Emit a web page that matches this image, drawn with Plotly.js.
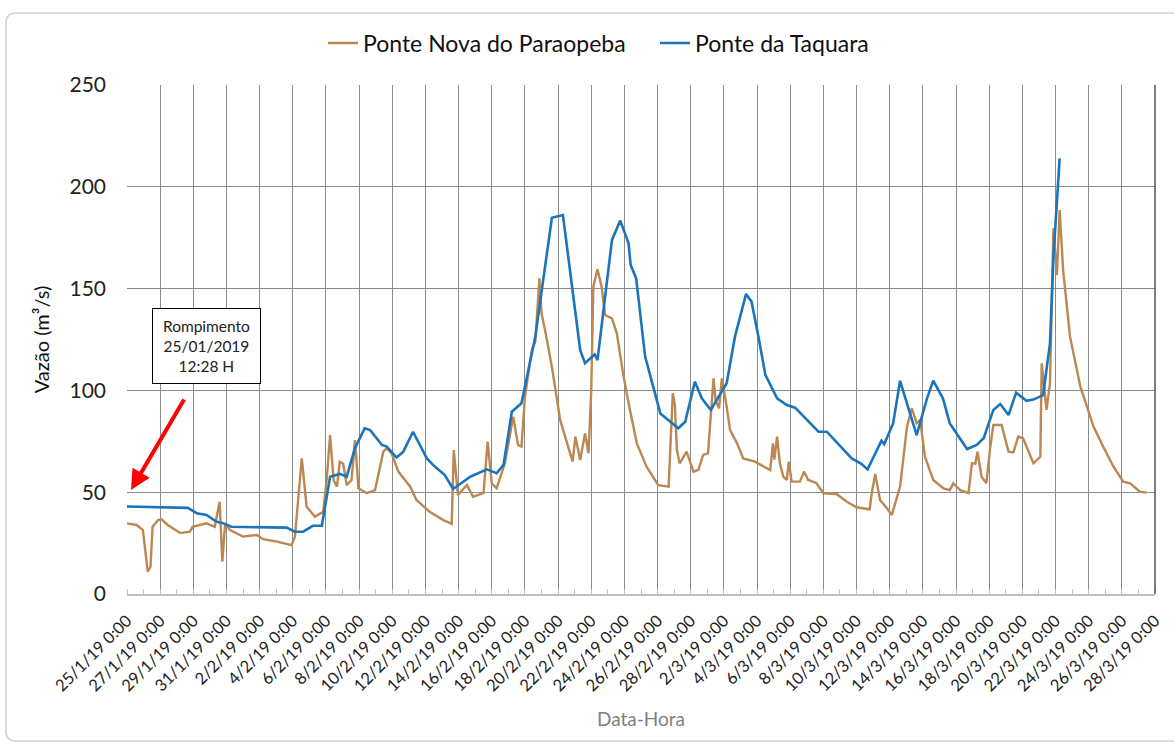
<!DOCTYPE html>
<html>
<head>
<meta charset="utf-8">
<script src="https://cdn.plot.ly/plotly-3.0.1.min.js"></script>
<style>
  html, body { margin: 0; padding: 0; background: #ffffff; }
  #chart { width: 1174px; height: 743px; }
</style>
</head>
<body>
<div id="chart"></div>
<script>
// ---------- DATA ----------
const seriesNames = ['Ponte Nova do Paraopeba', 'Ponte da Taquara'];

const paraopebaDates = [
'2019-01-25 00:00','2019-01-25 14:00','2019-01-25 23:00','2019-01-26 06:00','2019-01-26 10:00',
'2019-01-26 13:00','2019-01-26 21:00','2019-01-27 02:00','2019-01-27 11:00','2019-01-28 05:00',
'2019-01-28 19:00','2019-01-28 23:00','2019-01-29 19:00','2019-01-30 07:00','2019-01-30 14:00',
'2019-01-30 18:00','2019-01-30 22:00','2019-01-31 05:00','2019-02-01 00:00','2019-02-01 20:00',
'2019-02-02 05:00','2019-02-03 01:00','2019-02-03 22:00','2019-02-04 03:00','2019-02-04 13:00',
'2019-02-04 20:00','2019-02-05 08:00','2019-02-05 20:00','2019-02-06 01:00','2019-02-06 06:00',
'2019-02-06 11:00','2019-02-06 16:00','2019-02-06 20:00','2019-02-07 01:00','2019-02-07 06:00',
'2019-02-07 13:00','2019-02-07 18:00','2019-02-07 23:00','2019-02-08 11:00','2019-02-08 23:00',
'2019-02-09 11:00','2019-02-09 16:00','2019-02-09 23:00','2019-02-10 09:00','2019-02-11 02:00',
'2019-02-11 11:00','2019-02-12 06:00','2019-02-13 02:00','2019-02-13 14:00','2019-02-13 17:00',
'2019-02-13 23:00','2019-02-14 12:00','2019-02-14 21:00','2019-02-15 12:00','2019-02-15 18:00',
'2019-02-16 00:00','2019-02-16 07:00','2019-02-16 19:00','2019-02-17 07:00','2019-02-17 14:00',
'2019-02-17 19:00','2019-02-18 00:00','2019-02-18 10:00','2019-02-18 15:00','2019-02-18 21:00',
'2019-02-19 00:00','2019-02-19 07:00','2019-02-19 15:00','2019-02-20 03:00','2019-02-20 15:00',
'2019-02-20 21:00','2019-02-21 01:00','2019-02-21 08:00','2019-02-21 15:00','2019-02-21 20:00',
'2019-02-22 00:00','2019-02-22 03:00','2019-02-22 09:00','2019-02-22 15:00','2019-02-22 20:00',
'2019-02-23 06:00','2019-02-23 13:00','2019-02-23 22:00','2019-02-24 06:00','2019-02-24 18:00',
'2019-02-25 08:00','2019-02-26 01:00','2019-02-26 16:00','2019-02-26 19:00','2019-02-26 22:00',
'2019-02-27 01:00','2019-02-27 04:00','2019-02-27 08:00','2019-02-27 18:00','2019-02-28 04:00',
'2019-02-28 11:00','2019-02-28 18:00','2019-03-01 01:00','2019-03-01 09:00','2019-03-01 12:00',
'2019-03-01 17:00','2019-03-01 21:00','2019-03-02 04:00','2019-03-02 09:00','2019-03-02 19:00',
'2019-03-03 04:00','2019-03-03 21:00','2019-03-04 14:00','2019-03-04 19:00','2019-03-04 23:00',
'2019-03-05 01:00','2019-03-05 05:00','2019-03-05 09:00','2019-03-05 14:00','2019-03-05 19:00',
'2019-03-05 22:00','2019-03-06 02:00','2019-03-06 14:00','2019-03-06 20:00','2019-03-07 02:00',
'2019-03-07 14:00','2019-03-08 00:00','2019-03-08 19:00','2019-03-09 10:00','2019-03-10 00:00',
'2019-03-10 19:00','2019-03-10 22:00','2019-03-11 03:00','2019-03-11 10:00','2019-03-11 20:00',
'2019-03-12 03:00','2019-03-12 15:00','2019-03-13 01:00','2019-03-13 08:00','2019-03-13 15:00',
'2019-03-13 20:00','2019-03-14 03:00','2019-03-14 15:00','2019-03-15 06:00','2019-03-15 15:00',
'2019-03-15 20:00','2019-03-16 06:00','2019-03-16 18:00','2019-03-16 23:00','2019-03-17 04:00',
'2019-03-17 07:00','2019-03-17 13:00','2019-03-17 20:00','2019-03-18 01:00','2019-03-18 06:00',
'2019-03-18 18:00','2019-03-19 04:00','2019-03-19 11:00','2019-03-19 18:00','2019-03-20 01:00',
'2019-03-20 16:00','2019-03-21 02:00','2019-03-21 04:00','2019-03-21 11:00','2019-03-21 16:00',
'2019-03-21 21:00','2019-03-22 02:00','2019-03-22 06:00','2019-03-22 11:00','2019-03-22 21:00',
'2019-03-23 12:00','2019-03-24 07:00','2019-03-24 21:00','2019-03-25 12:00','2019-03-26 02:00',
'2019-03-26 12:00','2019-03-27 02:00','2019-03-27 12:00'
];
const paraopebaValues = [
34.7,33.9,31.4,11,13.4,
33,36.3,36.7,33.9,29.9,
30.6,33,34.7,33,45.3,
15.9,34.7,31.4,28.2,29,
26.9,25.7,24,28,66.6,
42.9,38,40.4,56,78,
56,52.7,65,64,53.5,
56,75.6,51.9,49.5,51,
69.9,71.6,69.1,60,52.7,
46.2,40.4,36.3,34.4,70.7,
48.6,53.5,47.8,49.5,74.8,
54.4,51.9,64.2,87.1,73.2,
72.4,96.9,119.8,123.9,155,
137.9,126.4,111.6,85.5,71.6,
65,77.3,65.8,78.9,69.1,
100.2,150.9,159.5,150.9,137,
135.4,128,108.4,93.7,74,
62.5,53.5,52.7,74,98.6,
93,70.7,64.2,69.9,60.1,
61,68.3,69.1,105.9,95,
91.2,105.9,92,80.5,74,
66.6,65,61.7,60.9,74,
66,77.3,64.2,57.6,56,
65,55.2,55.2,60.1,56,
54.4,49.5,49.1,45.3,42.6,
41.6,49.5,58.9,46.2,42.1,
38.8,52.7,82.2,91.2,83.8,
85.5,67.4,56,51.9,51,
54.4,51,49.5,64.2,64,
69.9,57.6,54.4,70.7,83,
83,69.9,69.5,77.3,76.5,
64.2,67.4,113.3,90.4,103.5,
179.6,156.7,188.6,159.1,126.4,
101.8,82.2,72.4,62.5,55.2,
54.4,50.3,49.8
];

const taquaraDates = [
'2019-01-25 00:00','2019-01-27 00:00','2019-01-28 16:00','2019-01-29 05:00','2019-01-29 19:00',
'2019-01-30 10:00','2019-01-30 19:00','2019-01-31 07:00','2019-02-03 15:00','2019-02-04 03:00',
'2019-02-04 15:00','2019-02-05 05:00','2019-02-05 18:00','2019-02-06 06:00','2019-02-06 20:00',
'2019-02-07 06:00','2019-02-07 18:00','2019-02-08 08:00','2019-02-08 16:00','2019-02-09 09:00',
'2019-02-09 16:00','2019-02-10 06:00','2019-02-10 16:00','2019-02-11 06:00','2019-02-12 02:00',
'2019-02-12 11:00','2019-02-13 04:00','2019-02-13 16:00','2019-02-14 17:00','2019-02-15 17:00',
'2019-02-16 07:00','2019-02-16 17:00','2019-02-17 05:00','2019-02-17 19:00','2019-02-18 15:00',
'2019-02-19 15:00','2019-02-20 07:00','2019-02-21 08:00','2019-02-21 15:00','2019-02-22 05:00',
'2019-02-22 09:00','2019-02-23 06:00','2019-02-23 18:00','2019-02-24 06:00','2019-02-24 09:00',
'2019-02-24 17:00','2019-02-25 06:00','2019-02-26 04:00','2019-02-27 06:00','2019-02-27 16:00',
'2019-02-28 06:00','2019-02-28 16:00','2019-03-01 05:00','2019-03-02 04:00','2019-03-02 16:00',
'2019-03-03 08:00','2019-03-03 16:00','2019-03-04 02:00','2019-03-04 12:00','2019-03-05 05:00',
'2019-03-05 19:00','2019-03-06 07:00','2019-03-07 07:00','2019-03-07 17:00','2019-03-08 05:00',
'2019-03-08 19:00','2019-03-09 17:00','2019-03-10 07:00','2019-03-10 16:00','2019-03-11 12:00',
'2019-03-11 16:00','2019-03-12 05:00','2019-03-12 15:00','2019-03-13 15:00','2019-03-14 06:00',
'2019-03-14 15:00','2019-03-15 05:00','2019-03-15 15:00','2019-03-16 16:00','2019-03-17 06:00',
'2019-03-17 16:00','2019-03-18 06:00','2019-03-18 16:00','2019-03-19 04:00','2019-03-19 15:00',
'2019-03-20 06:00','2019-03-20 16:00','2019-03-21 06:00','2019-03-21 16:00','2019-03-21 21:00',
'2019-03-22 06:00'
];
const taquaraValues = [
43,42.5,42.3,39.7,38.8,
35.5,34.8,33,32.6,30.6,
30.6,33.5,33.5,57.6,59,
57.6,71.6,81.4,80.5,73.2,
72.4,67.1,69.9,79.7,66.6,
63.4,58.4,51.6,57.6,61.2,
59.3,63.4,89.5,93.7,126.4,
184.8,186.1,119.8,113.3,117.7,
114.9,173.9,183.4,172.3,161.6,
155,116.6,88.7,81.4,84.6,
104.3,96.1,90.4,103.5,126.4,
147.3,143.6,126.4,107.6,96.1,
92.8,91.5,83.5,79.7,79.7,
74.8,66.6,63.9,61.2,75.3,
73.6,83.8,104.7,78,96.1,
104.8,96.1,83.8,71.2,73.2,
76.5,90.4,93.3,87.9,98.9,
94.9,95.5,97.7,123.1,165.7,
214
];

const tickDates = [
'2019-01-25','2019-01-27','2019-01-29','2019-01-31','2019-02-02','2019-02-04','2019-02-06','2019-02-08',
'2019-02-10','2019-02-12','2019-02-14','2019-02-16','2019-02-18','2019-02-20','2019-02-22','2019-02-24',
'2019-02-26','2019-02-28','2019-03-02','2019-03-04','2019-03-06','2019-03-08','2019-03-10','2019-03-12',
'2019-03-14','2019-03-16','2019-03-18','2019-03-20','2019-03-22','2019-03-24','2019-03-26','2019-03-28'
];
const tickLabels = [
'25/1/19 0:00','27/1/19 0:00','29/1/19 0:00','31/1/19 0:00','2/2/19 0:00','4/2/19 0:00','6/2/19 0:00','8/2/19 0:00',
'10/2/19 0:00','12/2/19 0:00','14/2/19 0:00','16/2/19 0:00','18/2/19 0:00','20/2/19 0:00','22/2/19 0:00','24/2/19 0:00',
'26/2/19 0:00','28/2/19 0:00','2/3/19 0:00','4/3/19 0:00','6/3/19 0:00','8/3/19 0:00','10/3/19 0:00','12/3/19 0:00',
'14/3/19 0:00','16/3/19 0:00','18/3/19 0:00','20/3/19 0:00','22/3/19 0:00','24/3/19 0:00','26/3/19 0:00','28/3/19 0:00'
];
const yTicks = [0, 50, 100, 150, 200, 250];

const annotationText = 'Rompimento<br>25/01/2019<br>12:28 H';
const xTitle = 'Data-Hora';
const yTitle = 'Vazão (m³/s)';

// ---------- LAYOUT HELPERS ----------
const W = 1174, H = 743;
const M = { l: 127, r: 19, t: 85, b: 149 };
const PW = W - M.l - M.r, PH = H - M.t - M.b;
const px = x => (x - M.l) / PW;
const py = y => (H - M.b - y) / PH;

function roundedFrame(x0, y0, x1, y1, r) {
  const rx = r / PW, ry = r / PH;
  const X0 = px(x0), X1 = px(x1), Y0 = py(y0), Y1 = py(y1);
  return `M ${X0 + rx} ${Y0} L ${X1 - rx} ${Y0} Q ${X1} ${Y0} ${X1} ${Y0 - ry} ` +
         `L ${X1} ${Y1 + ry} Q ${X1} ${Y1} ${X1 - rx} ${Y1} L ${X0 + rx} ${Y1} ` +
         `Q ${X0} ${Y1} ${X0} ${Y1 + ry} L ${X0} ${Y0 - ry} Q ${X0} ${Y0} ${X0 + rx} ${Y0} Z`;
}

const FONT = 'Lato, "Open Sans", sans-serif';
const brown = '#bd8752';
const blue = '#1c74bb';

const traces = [
  { x: paraopebaDates, y: paraopebaValues, name: seriesNames[0], type: 'scatter', mode: 'lines',
    line: { color: brown, width: 2.4 } },
  { x: taquaraDates, y: taquaraValues, name: seriesNames[1], type: 'scatter', mode: 'lines',
    line: { color: blue, width: 2.6 } }
];

const layout = {
  width: W, height: H,
  margin: M,
  paper_bgcolor: '#ffffff', plot_bgcolor: '#ffffff',
  font: { family: FONT, color: '#222222' },
  showlegend: true,
  legend: { orientation: 'h', x: px(323), xanchor: 'left', y: py(43), yanchor: 'middle',
            font: { family: FONT, size: 23, color: '#111111' },
            entrywidth: 287, entrywidthmode: 'pixels', itemwidth: 30 },
  xaxis: {
    type: 'date',
    range: ['2019-01-25 00:00', '2019-03-28 00:00'],
    tickmode: 'array', tickvals: tickDates, ticktext: tickLabels,
    tickangle: -45,
    tickfont: { family: FONT, size: 16.5, color: '#222222' },
    ticklabelstandoff: 9,
    showgrid: true, gridcolor: '#8a8a8a', gridwidth: 1,
    showline: true, linecolor: '#bfbfbf', linewidth: 1.5,
    ticks: '',
    minor: { tickmode: 'linear', dtick: 86400000, tick0: '2019-01-25', ticks: 'inside', ticklen: 5,
             tickcolor: '#bfbfbf', showgrid: false, gridcolor: 'rgba(0,0,0,0)' },
    zeroline: false,
    title: { text: xTitle, font: { family: FONT, size: 19, color: '#7f7f7f' }, standoff: 18 },
    automargin: false
  },
  yaxis: {
    range: [0, 250],
    tickmode: 'array', tickvals: yTicks,
    tickfont: { family: FONT, size: 21, color: '#222222' },
    ticklabelstandoff: 20,
    showgrid: true, gridcolor: '#8a8a8a', gridwidth: 1,
    showline: false, zeroline: false,
    title: { text: yTitle, font: { family: FONT, size: 20, color: '#111111' }, standoff: 14 },
    automargin: false
  },
  shapes: [
    { type: 'line', xref: 'paper', yref: 'paper', x0: 1, x1: 1, y0: 0, y1: 1,
      line: { color: '#555555', width: 1.5 } },
    { type: 'path', xref: 'paper', yref: 'paper', path: roundedFrame(6, 13, 1185, 741, 10),
      line: { color: '#d0d0d0', width: 1.5 }, fillcolor: 'rgba(0,0,0,0)' }
  ],
  annotations: [
    { xref: 'paper', yref: 'paper', x: px(206.5), y: py(346), xanchor: 'center', yanchor: 'middle',
      text: annotationText, showarrow: false,
      font: { family: FONT, size: 15.5, color: '#222222' },
      bgcolor: '#ffffff', bordercolor: '#000000', borderwidth: 1,
      width: 105, height: 72, align: 'center', valign: 'middle' },
    { xref: 'paper', yref: 'paper', x: px(131), y: py(490), axref: 'pixel', ayref: 'pixel',
      ax: 185 - 131, ay: 398 - 490, text: '', showarrow: true,
      arrowcolor: '#ff0000', arrowwidth: 4, arrowhead: 2, arrowsize: 1 }
  ]
};

Plotly.newPlot('chart', traces, layout, { displayModeBar: false, staticPlot: true });
</script>
</body>
</html>
